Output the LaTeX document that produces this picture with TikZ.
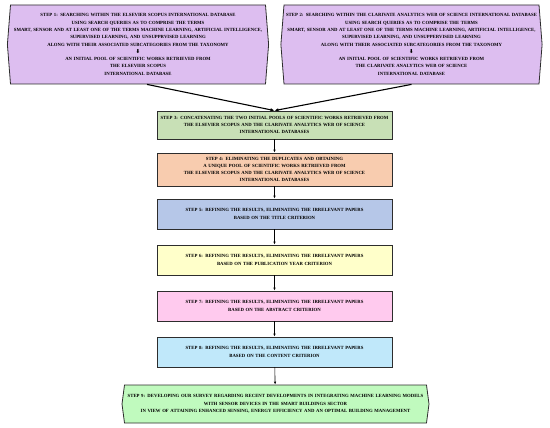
\documentclass[tikz,border=0pt]{standalone}
\usepackage{fontspec}
\setmainfont{Liberation Serif}
\newfontfamily\dejavu{DejaVu Sans}
\usetikzlibrary{shapes.symbols,arrows.meta}
\definecolor{lav}{RGB}{221,190,240}
\definecolor{gthree}{RGB}{200,224,182}
\definecolor{pfour}{RGB}{248,204,175}
\definecolor{bfive}{RGB}{182,199,232}
\definecolor{ysix}{RGB}{255,255,202}
\definecolor{pseven}{RGB}{255,202,238}
\definecolor{beight}{RGB}{192,232,250}
\definecolor{gnine}{RGB}{192,250,190}
\definecolor{edge}{RGB}{45,45,45}
\tikzset{
  txt/.style={font=\bfseries\fontsize{4.75}{7.3}\selectfont, align=center, inner sep=0pt},
  topbox/.style={txt, shape=signal, signal to=west and east, signal pointer angle=171,
    draw=edge, line width=0.8pt, fill=lav, minimum height=79pt, text width=255pt},
  midbox/.style={txt, rectangle, draw=edge, line width=0.8pt, minimum width=235pt, text width=232pt},
  endbox/.style={txt, shape=signal, signal to=west and east, signal pointer angle=165,
    draw=edge, line width=0.8pt, fill=gnine, minimum height=38pt, text width=302pt},
  link/.style={-{Latex[length=3pt,width=2.5pt]}, line width=0.6pt, black},
  biglink/.style={-{Latex[length=4pt,width=3.5pt]}, line width=1.1pt, black}
}
\newcommand{\darr}{{\dejavu\fontsize{5.5}{6}\selectfont ⬇}}
\begin{document}
\begin{tikzpicture}[x=1pt,y=-1pt]
\useasboundingbox (0,0) rectangle (550,428);
\node[topbox] (s1) at (138,44.5) {STEP 1: SEARCHING WITHIN THE ELSEVIER SCOPUS INTERNATIONAL DATABASE\\
USING SEARCH QUERIES AS TO COMPRISE THE TERMS\\
SMART, SENSOR AND AT LEAST ONE OF THE TERMS MACHINE LEARNING, ARTIFICIAL INTELLIGENCE,\\
SUPERVISED LEARNING, AND UNSUPPRVISED LEARNING\\
ALONG WITH THEIR ASSOCIATED SUBCATEGORIES FROM THE TAXONOMY\\
\darr\\
AN INITIAL POOL OF SCIENTIFIC WORKS RETRIEVED FROM\\
THE ELSEVIER SCOPUS\\
INTERNATIONAL DATABASE};
\node[topbox] (s2) at (411.5,44.5) {STEP 2: SEARCHING WITHIN THE CLARIVATE ANALYTICS WEB OF SCIENCE INTERNATIONAL DATABASE\\
USING SEARCH QUERIES AS TO COMPRISE THE TERMS\\
SMART, SENSOR AND AT LEAST ONE OF THE TERMS MACHINE LEARNING, ARTIFICIAL INTELLIGENCE,\\
SUPERVISED LEARNING, AND UNSUPPERVISED LEARNING\\
ALONG WITH THEIR ASSOCIATED SUBCATEGORIES FROM THE TAXONOMY\\
\darr\\
AN INITIAL POOL OF SCIENTIFIC WORKS RETRIEVED FROM\\
THE CLARIVATE ANALYTICS WEB OF SCIENCE\\
INTERNATIONAL DATABASE};
\node[midbox, fill=gthree, minimum height=28pt] (s3) at (274.5,125) {STEP 3: CONCATENATING THE TWO INITIAL POOLS OF SCIENTIFIC WORKS RETRIEVED FROM\\
THE ELSEVIER SCOPUS AND THE CLARIVATE ANALYTICS WEB OF SCIENCE\\
INTERNATIONAL DATABASES};
\node[midbox, fill=pfour, minimum height=33pt] (s4) at (274.5,169.5) {STEP 4: ELIMINATING THE DUPLICATES AND OBTAINING\\
A UNIQUE POOL OF SCIENTIFIC WORKS RETRIEVED FROM\\
THE ELSEVIER SCOPUS AND THE CLARIVATE ANALYTICS WEB OF SCIENCE\\
INTERNATIONAL DATABASES};
\node[midbox, fill=bfive, minimum height=30pt] (s5) at (274.5,214) {STEP 5: REFINING THE RESULTS, ELIMINATING THE IRRELEVANT PAPERS\\
BASED ON THE TITLE CRITERION};
\node[midbox, fill=ysix, minimum height=30pt] (s6) at (274.5,260) {STEP 6: REFINING THE RESULTS, ELIMINATING THE IRRELEVANT PAPERS\\
BASED ON THE PUBLICATION YEAR CRITERION};
\node[midbox, fill=pseven, minimum height=30pt] (s7) at (274.5,306) {STEP 7: REFINING THE RESULTS, ELIMINATING THE IRRELEVANT PAPERS\\
BASED ON THE ABSTRACT CRITERION};
\node[midbox, fill=beight, minimum height=30pt] (s8) at (274.5,352) {STEP 8: REFINING THE RESULTS, ELIMINATING THE IRRELEVANT PAPERS\\
BASED ON THE CONTENT CRITERION};
\node[endbox] (s9) at (275.5,404) {STEP 9: DEVELOPING OUR SURVEY REGARDING RECENT DEVELOPMENTS IN INTEGRATING MACHINE LEARNING MODELS\\
WITH SENSOR DEVICES IN THE SMART BUILDINGS SECTOR\\
IN VIEW OF ATTAINING ENHANCED SENSING, ENERGY EFFICIENCY AND AN OPTIMAL BUILDING MANAGEMENT};
\draw[biglink] ([xshift=9pt]s1.south) -- (s3.north);
\draw[biglink] (s2.south) -- (s3.north);
\draw[link] (s3) -- (s4);
\draw[link] (s4) -- (s5);
\draw[link] (s5) -- (s6);
\draw[link] (s6) -- (s7);
\draw[link] (s7) -- (s8);
\draw[link] (s8) -- (s9);
\end{tikzpicture}
\end{document}
